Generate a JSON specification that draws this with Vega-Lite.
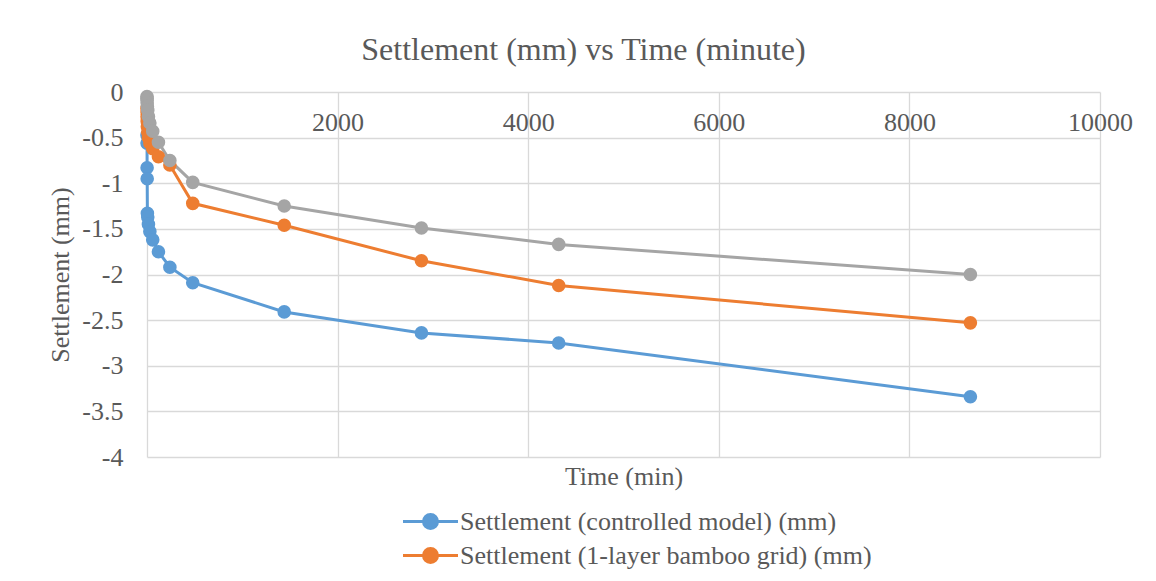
{
  "$schema": "https://vega.github.io/schema/vega-lite/v6.json",
  "width": 953,
  "height": 365,
  "autosize": {"type": "none"},
  "padding": {"left": 147, "top": 92, "right": 56, "bottom": 124},
  "background": "white",
  "title": {
    "text": "Settlement (mm) vs Time (minute)",
    "font": "Liberation Serif",
    "fontSize": 32,
    "fontWeight": "normal",
    "color": "#595959",
    "anchor": "middle",
    "frame": "group",
    "baseline": "alphabetic",
    "dx": -40,
    "dy": 33,
    "offset": 20
  },
  "config": {
    "view": {"stroke": null},
    "font": "Liberation Serif"
  },
  "data": {
    "values": [
      {"time": 0, "series": "Settlement (controlled model) (mm)", "settlement": -0.47},
      {"time": 0.5, "series": "Settlement (controlled model) (mm)", "settlement": -0.56},
      {"time": 1, "series": "Settlement (controlled model) (mm)", "settlement": -0.83},
      {"time": 2, "series": "Settlement (controlled model) (mm)", "settlement": -0.95},
      {"time": 4, "series": "Settlement (controlled model) (mm)", "settlement": -1.33},
      {"time": 8, "series": "Settlement (controlled model) (mm)", "settlement": -1.37},
      {"time": 15, "series": "Settlement (controlled model) (mm)", "settlement": -1.45},
      {"time": 30, "series": "Settlement (controlled model) (mm)", "settlement": -1.53},
      {"time": 60, "series": "Settlement (controlled model) (mm)", "settlement": -1.62},
      {"time": 120, "series": "Settlement (controlled model) (mm)", "settlement": -1.75},
      {"time": 240, "series": "Settlement (controlled model) (mm)", "settlement": -1.92},
      {"time": 480, "series": "Settlement (controlled model) (mm)", "settlement": -2.09},
      {"time": 1440, "series": "Settlement (controlled model) (mm)", "settlement": -2.41},
      {"time": 2880, "series": "Settlement (controlled model) (mm)", "settlement": -2.64},
      {"time": 4320, "series": "Settlement (controlled model) (mm)", "settlement": -2.75},
      {"time": 8640, "series": "Settlement (controlled model) (mm)", "settlement": -3.34},
      {"time": 0, "series": "Settlement (1-layer bamboo grid) (mm)", "settlement": -0.18},
      {"time": 0.5, "series": "Settlement (1-layer bamboo grid) (mm)", "settlement": -0.22},
      {"time": 1, "series": "Settlement (1-layer bamboo grid) (mm)", "settlement": -0.27},
      {"time": 2, "series": "Settlement (1-layer bamboo grid) (mm)", "settlement": -0.32},
      {"time": 4, "series": "Settlement (1-layer bamboo grid) (mm)", "settlement": -0.38},
      {"time": 8, "series": "Settlement (1-layer bamboo grid) (mm)", "settlement": -0.44},
      {"time": 15, "series": "Settlement (1-layer bamboo grid) (mm)", "settlement": -0.5},
      {"time": 30, "series": "Settlement (1-layer bamboo grid) (mm)", "settlement": -0.56},
      {"time": 60, "series": "Settlement (1-layer bamboo grid) (mm)", "settlement": -0.62},
      {"time": 120, "series": "Settlement (1-layer bamboo grid) (mm)", "settlement": -0.71},
      {"time": 240, "series": "Settlement (1-layer bamboo grid) (mm)", "settlement": -0.8},
      {"time": 480, "series": "Settlement (1-layer bamboo grid) (mm)", "settlement": -1.22},
      {"time": 1440, "series": "Settlement (1-layer bamboo grid) (mm)", "settlement": -1.46},
      {"time": 2880, "series": "Settlement (1-layer bamboo grid) (mm)", "settlement": -1.85},
      {"time": 4320, "series": "Settlement (1-layer bamboo grid) (mm)", "settlement": -2.12},
      {"time": 8640, "series": "Settlement (1-layer bamboo grid) (mm)", "settlement": -2.53},
      {"time": 0, "series": "Settlement (2-layer bamboo grid) (mm)", "settlement": -0.05},
      {"time": 0.5, "series": "Settlement (2-layer bamboo grid) (mm)", "settlement": -0.07},
      {"time": 1, "series": "Settlement (2-layer bamboo grid) (mm)", "settlement": -0.09},
      {"time": 2, "series": "Settlement (2-layer bamboo grid) (mm)", "settlement": -0.12},
      {"time": 4, "series": "Settlement (2-layer bamboo grid) (mm)", "settlement": -0.16},
      {"time": 8, "series": "Settlement (2-layer bamboo grid) (mm)", "settlement": -0.2},
      {"time": 15, "series": "Settlement (2-layer bamboo grid) (mm)", "settlement": -0.27},
      {"time": 30, "series": "Settlement (2-layer bamboo grid) (mm)", "settlement": -0.34},
      {"time": 60, "series": "Settlement (2-layer bamboo grid) (mm)", "settlement": -0.43},
      {"time": 120, "series": "Settlement (2-layer bamboo grid) (mm)", "settlement": -0.55},
      {"time": 240, "series": "Settlement (2-layer bamboo grid) (mm)", "settlement": -0.75},
      {"time": 480, "series": "Settlement (2-layer bamboo grid) (mm)", "settlement": -0.99},
      {"time": 1440, "series": "Settlement (2-layer bamboo grid) (mm)", "settlement": -1.25},
      {"time": 2880, "series": "Settlement (2-layer bamboo grid) (mm)", "settlement": -1.49},
      {"time": 4320, "series": "Settlement (2-layer bamboo grid) (mm)", "settlement": -1.67},
      {"time": 8640, "series": "Settlement (2-layer bamboo grid) (mm)", "settlement": -2.0}
    ]
  },
  "mark": {
    "type": "line",
    "strokeWidth": 3,
    "point": {"filled": true, "size": 185, "opacity": 1}
  },
  "encoding": {
    "x": {
      "field": "time",
      "type": "quantitative",
      "scale": {"domain": [0, 10000], "nice": false, "zero": false},
      "axis": {
        "orient": "bottom",
        "offset": -365,
        "values": [0, 2000, 4000, 6000, 8000, 10000],
        "labelExpr": "'' + datum.value",
        "labelFont": "Liberation Serif",
        "labelFontSize": 26,
        "labelColor": "#595959",
        "labelPadding": 17,
        "labelFlush": false,
        "labelOverlap": false,
        "ticks": false,
        "domain": false,
        "grid": true,
        "gridColor": "#d9d9d9",
        "gridWidth": 1.3,
        "title": "Time (min)",
        "titleFont": "Liberation Serif",
        "titleFontSize": 26,
        "titleFontWeight": "normal",
        "titleColor": "#595959",
        "titleBaseline": "middle",
        "titleY": 384
      }
    },
    "y": {
      "field": "settlement",
      "type": "quantitative",
      "scale": {"domain": [-4, 0], "nice": false, "zero": false},
      "axis": {
        "values": [0, -0.5, -1, -1.5, -2, -2.5, -3, -3.5, -4],
        "labelExpr": "'' + datum.value",
        "labelFont": "Liberation Serif",
        "labelFontSize": 26,
        "labelColor": "#595959",
        "labelPadding": 24,
        "labelFlush": false,
        "labelOverlap": false,
        "ticks": false,
        "domain": false,
        "grid": true,
        "gridColor": "#d9d9d9",
        "gridWidth": 1.3,
        "title": "Settlement (mm)",
        "titleFont": "Liberation Serif",
        "titleFontSize": 26,
        "titleFontWeight": "normal",
        "titleColor": "#595959",
        "titleX": -87,
        "titleBaseline": "middle"
      }
    },
    "color": {
      "field": "series",
      "type": "nominal",
      "sort": ["Settlement (controlled model) (mm)", "Settlement (1-layer bamboo grid) (mm)", "Settlement (2-layer bamboo grid) (mm)"],
      "scale": {
        "domain": ["Settlement (controlled model) (mm)", "Settlement (1-layer bamboo grid) (mm)", "Settlement (2-layer bamboo grid) (mm)"],
        "range": ["#5B9BD5", "#ED7D31", "#A5A5A5"]
      },
      "legend": {
        "orient": "none",
        "legendX": 268,
        "legendY": 414,
        "direction": "vertical",
        "title": null,
        "padding": 0,
        "values": ["Settlement (controlled model) (mm)", "Settlement (1-layer bamboo grid) (mm)"],
        "symbolType": "M-2,0H2M-0.51,0A0.51,0.51 0 1,1 0.51,0A0.51,0.51 0 1,1 -0.51,0Z",
        "symbolSize": 756,
        "symbolStrokeWidth": 3,
        "symbolOpacity": 1,
        "labelFont": "Liberation Serif",
        "labelFontSize": 26,
        "labelColor": "#595959",
        "labelOffset": 14,
        "labelLimit": 800,
        "rowPadding": 5
      }
    }
  }
}
